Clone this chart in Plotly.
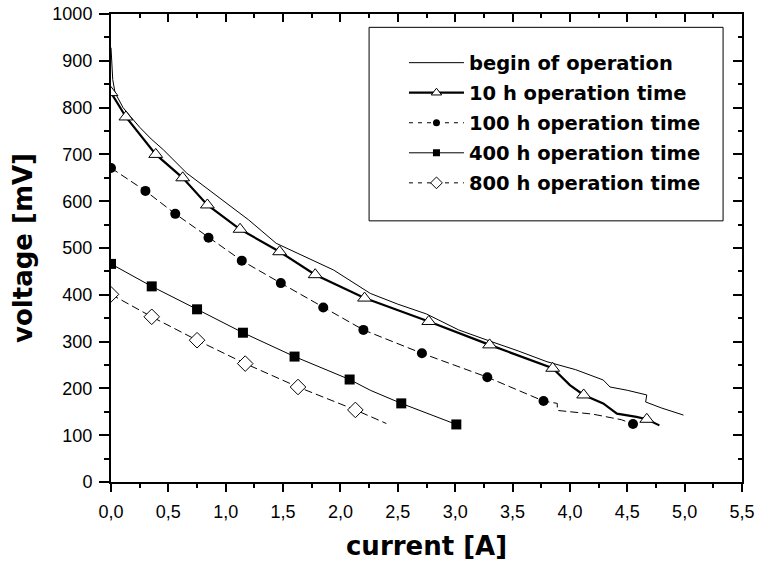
import plotly.graph_objects as go

# ---- measured polarisation curves (current in A, voltage in mV) ----
# begin of operation: continuous curve only
begin_x = [0.0, 0.005, 0.015, 0.035, 0.07, 0.105, 0.166, 0.25, 0.35, 0.456, 0.66, 0.85,
           1.01, 1.2, 1.44, 1.7, 1.94, 2.26, 2.5, 2.75, 3.03, 3.28, 3.55, 3.80, 4.05,
           4.29, 4.35, 4.5, 4.67, 4.66, 4.8, 4.99]
begin_y = [928, 890, 860, 832, 815, 800, 782, 758, 733, 710, 660, 625,
           596, 560, 510, 480, 453, 403, 380, 359, 325, 303, 280, 257, 240,
           218, 203, 196, 186, 171, 158, 143]

# 10 h operation time
h10_x = [0.0, 0.13, 0.39, 0.625, 0.84, 1.125, 1.47, 1.78, 2.21, 2.77, 3.30, 3.85,
         4.0, 4.12, 4.29, 4.41, 4.58, 4.67, 4.78]
h10_y = [832, 780, 700, 650, 592, 540, 492, 443, 393, 343, 293, 243,
         207, 186, 168, 146, 139, 134, 121]
h10_mx = [0.0, 0.13, 0.39, 0.625, 0.84, 1.125, 1.47, 1.78, 2.21, 2.77, 3.30, 3.85, 4.12, 4.67]
h10_my = [832, 780, 700, 650, 592, 540, 492, 443, 393, 343, 293, 243, 186, 134]

# 100 h operation time
h100_x = [0.0, 0.30, 0.56, 0.85, 1.14, 1.48, 1.85, 2.20, 2.71, 3.28, 3.77,
          3.89, 3.89, 4.0, 4.2, 4.45, 4.55]
h100_y = [671, 622, 573, 522, 473, 425, 373, 325, 275, 224, 173,
          168, 153, 150, 145, 133, 124]
h100_mx = [0.0, 0.30, 0.56, 0.85, 1.14, 1.48, 1.85, 2.20, 2.71, 3.28, 3.77, 4.55]
h100_my = [671, 622, 573, 522, 473, 425, 373, 325, 275, 224, 173, 124]

# 400 h operation time
h400_x = [0.0, 0.355, 0.75, 1.15, 1.60, 2.08, 2.26, 2.53, 3.01]
h400_y = [466, 418, 369, 319, 268, 219, 196, 168, 123]
h400_mx = [0.0, 0.355, 0.75, 1.15, 1.60, 2.08, 2.53, 3.01]
h400_my = [466, 418, 369, 319, 268, 219, 168, 123]

# 800 h operation time
h800_x = [0.0, 0.355, 0.75, 1.17, 1.63, 2.13, 2.40]
h800_y = [401, 353, 303, 253, 203, 154, 125]
h800_mx = [0.0, 0.355, 0.75, 1.17, 1.63, 2.13]
h800_my = [401, 353, 303, 253, 203, 154]

series_names = ["begin of operation", "10 h operation time", "100 h operation time",
                "400 h operation time", "800 h operation time"]

BLACK = "black"
DASH = "8px,4px"

fig = go.Figure()

# curves
fig.add_trace(go.Scatter(x=begin_x, y=begin_y, mode="lines",
                         line=dict(color=BLACK, width=1), showlegend=False, hoverinfo="skip"))
fig.add_trace(go.Scatter(x=h10_x, y=h10_y, mode="lines",
                         line=dict(color=BLACK, width=2.2), showlegend=False, hoverinfo="skip"))
fig.add_trace(go.Scatter(x=h100_x, y=h100_y, mode="lines",
                         line=dict(color=BLACK, width=1, dash=DASH), showlegend=False, hoverinfo="skip"))
fig.add_trace(go.Scatter(x=h400_x, y=h400_y, mode="lines",
                         line=dict(color=BLACK, width=1), showlegend=False, hoverinfo="skip"))
fig.add_trace(go.Scatter(x=h800_x, y=h800_y, mode="lines",
                         line=dict(color=BLACK, width=1, dash=DASH), showlegend=False, hoverinfo="skip"))

# measurement markers
fig.add_trace(go.Scatter(x=h10_mx, y=h10_my, mode="markers", showlegend=False,
                         marker=dict(symbol="triangle-up", size=12, color="white",
                                     line=dict(color=BLACK, width=1))))
fig.add_trace(go.Scatter(x=h100_mx, y=h100_my, mode="markers", showlegend=False,
                         marker=dict(symbol="circle", size=10, color=BLACK)))
fig.add_trace(go.Scatter(x=h400_mx, y=h400_my, mode="markers", showlegend=False,
                         marker=dict(symbol="square", size=10, color=BLACK)))
fig.add_trace(go.Scatter(x=h800_mx, y=h800_my, mode="markers", showlegend=False,
                         marker=dict(symbol="diamond", size=12, color="white",
                                     line=dict(color=BLACK, width=1))))

# legend entries
legend_styles = [
    dict(mode="lines", line=dict(color=BLACK, width=1)),
    dict(mode="lines+markers", line=dict(color=BLACK, width=2.2),
         marker=dict(symbol="triangle-up", size=9, color="white", line=dict(color=BLACK, width=1))),
    dict(mode="lines+markers", line=dict(color=BLACK, width=1, dash="4px,5px"),
         marker=dict(symbol="circle", size=7, color=BLACK)),
    dict(mode="lines+markers", line=dict(color=BLACK, width=1),
         marker=dict(symbol="square", size=7, color=BLACK)),
    dict(mode="lines+markers", line=dict(color=BLACK, width=1, dash="4px,5px"),
         marker=dict(symbol="diamond", size=9, color="white", line=dict(color=BLACK, width=1))),
]
for i, (name, st) in enumerate(zip(series_names, legend_styles)):
    fig.add_trace(go.Scatter(x=[None], y=[None], name=name, showlegend=True,
                             legendgroup=f"g{i}", **st))

tick_font = dict(family="Liberation Sans", size=18, color=BLACK)
title_font = dict(family="DejaVu Sans", size=26, color=BLACK, weight="bold")

fig.update_layout(
    width=758, height=562,
    margin=dict(l=111, r=16, t=14, b=80, autoexpand=False),
    paper_bgcolor="white", plot_bgcolor="white",
    separators=", ",
    showlegend=True,
    legend=dict(x=0.4643, y=0.937, xanchor="left", yanchor="top",
                bgcolor="rgba(0,0,0,0)", borderwidth=0,
                font=dict(family="DejaVu Sans", size=19.5, color=BLACK, weight="bold"),
                itemwidth=55, tracegroupgap=1.7),
    xaxis=dict(range=[0, 5.5], tick0=0, dtick=0.5, tickformat=".1f", automargin=False,
               showgrid=False, zeroline=False, showline=True, linecolor=BLACK, linewidth=2,
               ticks="outside", ticklen=8, tickwidth=1.5, tickcolor=BLACK,
               minor=dict(ticks="outside", ticklen=4, dtick=0.25, tickwidth=1.5, tickcolor=BLACK),
               tickfont=tick_font, ticklabelstandoff=4,
               title=dict(text="current [A]", font=title_font, standoff=16)),
    yaxis=dict(range=[0, 1000], tick0=0, dtick=100, automargin=False,
               showgrid=False, zeroline=False, showline=True, linecolor=BLACK, linewidth=2,
               ticks="outside", ticklen=10, tickwidth=1.5, tickcolor=BLACK,
               minor=dict(ticks="outside", ticklen=5, dtick=50, tickwidth=1.5, tickcolor=BLACK),
               tickfont=tick_font, ticklabelstandoff=3,
               title=dict(text="voltage [mV]", font=title_font, standoff=12)),
    xaxis2=dict(range=[0, 5.5], tick0=0, dtick=0.5, overlaying="x", side="top", automargin=False,
                showgrid=False, zeroline=False, showline=True, linecolor=BLACK, linewidth=1.5,
                ticks="inside", ticklen=8, tickwidth=1.5, tickcolor=BLACK,
                minor=dict(ticks="inside", ticklen=4, dtick=0.25, tickwidth=1.5, tickcolor=BLACK),
                showticklabels=False),
    yaxis2=dict(range=[0, 1000], tick0=0, dtick=100, overlaying="y", side="right", automargin=False,
                showgrid=False, zeroline=False, showline=True, linecolor=BLACK, linewidth=1.5,
                ticks="inside", ticklen=9, tickwidth=1.5, tickcolor=BLACK,
                minor=dict(ticks="inside", ticklen=4, dtick=50, tickwidth=1.5, tickcolor=BLACK),
                showticklabels=False),
    shapes=[dict(type="rect", xref="paper", yref="paper",
                 x0=0.409, x1=0.970, y0=0.558, y1=0.9715,
                 line=dict(color=BLACK, width=1), fillcolor="rgba(0,0,0,0)")],
)

# empty trace to activate the mirrored frame axes
fig.add_trace(go.Scatter(x=[None], y=[None], xaxis="x2", yaxis="y2", showlegend=False,
                         hoverinfo="skip"))

fig.write_html("out.html")
